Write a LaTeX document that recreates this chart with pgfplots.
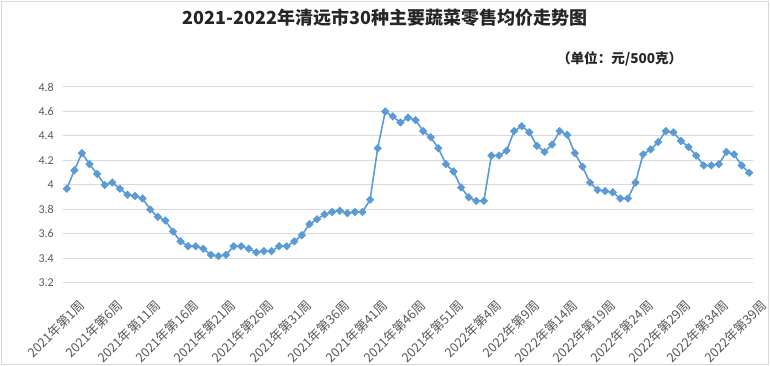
\documentclass[border=0pt]{standalone}
\usepackage{fontspec}
\setmainfont{Carlito}
\newfontfamily\cjk{Noto Sans CJK SC}
\usepackage{pgfplots}
\pgfplotsset{compat=1.18}
\definecolor{lineblue}{HTML}{5B9BD5}
\definecolor{gridgray}{HTML}{D9D9D9}
\definecolor{labgray}{HTML}{595959}
\begin{document}
\begin{tikzpicture}[x=0.75pt,y=0.75pt]
\path[use as bounding box] (0,0) rectangle (770,366);
\draw[gridgray, line width=0.75pt] (1.5,1.5) rectangle (768.5,364.5);
\node[font=\cjk\bfseries\fontsize{13.5}{14}\selectfont, text=black!85] at (385,348) {2021-2022年清远市30种主要蔬菜零售均价走势图};
\node[anchor=east, font=\cjk\bfseries\fontsize{10.2}{11}\selectfont, text=black!85] at (687,307) {（单位：元/500克）};
\begin{axis}[
  at={(47.25pt,62.25pt)}, anchor=south west,
  scale only axis, width=517.5pt, height=147pt,
  xmin=0.5, xmax=91.5, ymin=3.2, ymax=4.8,
  ytick={3.2,3.4,3.6,3.8,4,4.2,4.4,4.6,4.8},
  yticklabels={3.2,3.4,3.6,3.8,4,4.2,4.4,4.6,4.8},
  xtick={1,6,...,91},
  xticklabels={2021年第1周,2021年第6周,2021年第11周,2021年第16周,2021年第21周,2021年第26周,2021年第31周,2021年第36周,2021年第41周,2021年第46周,2021年第51周,2022年第4周,2022年第9周,2022年第14周,2022年第19周,2022年第24周,2022年第29周,2022年第34周,2022年第39周},
  axis line style={draw=none},
  major tick length=0pt,
  ymajorgrids, grid style={gridgray, line width=0.75pt},
  yticklabel style={font=\fontsize{9}{9}\selectfont, text=labgray, anchor=east, inner sep=0pt, xshift=-6.75pt},
  xticklabel style={font=\cjk\fontsize{9.6}{10}\selectfont, text=labgray, inner sep=0pt, xshift=11.5pt, yshift=-14.5pt, rotate=45, anchor=east},
  clip=false,
]
\addplot[color=lineblue, line width=1.2pt, mark=square*, mark size=2pt, mark options={rotate=45, fill=lineblue, draw=lineblue, line width=0.4pt}] coordinates {
(1,3.97)(2,4.12)(3,4.26)(4,4.17)(5,4.09)(6,4.00)(7,4.02)(8,3.97)(9,3.92)(10,3.91)
(11,3.89)(12,3.80)(13,3.74)(14,3.71)(15,3.62)(16,3.54)(17,3.50)(18,3.50)(19,3.48)(20,3.43)
(21,3.42)(22,3.43)(23,3.50)(24,3.50)(25,3.48)(26,3.45)(27,3.46)(28,3.46)(29,3.50)(30,3.50)
(31,3.54)(32,3.59)(33,3.68)(34,3.72)(35,3.76)(36,3.78)(37,3.79)(38,3.77)(39,3.78)(40,3.78)
(41,3.88)(42,4.30)(43,4.60)(44,4.56)(45,4.51)(46,4.55)(47,4.53)(48,4.44)(49,4.39)(50,4.30)
(51,4.17)(52,4.11)(53,3.98)(54,3.90)(55,3.87)(56,3.87)(57,4.24)(58,4.24)(59,4.28)(60,4.44)
(61,4.48)(62,4.43)(63,4.32)(64,4.27)(65,4.33)(66,4.44)(67,4.41)(68,4.26)(69,4.15)(70,4.02)
(71,3.96)(72,3.95)(73,3.94)(74,3.89)(75,3.89)(76,4.02)(77,4.25)(78,4.29)(79,4.35)(80,4.44)
(81,4.43)(82,4.36)(83,4.31)(84,4.24)(85,4.16)(86,4.16)(87,4.17)(88,4.27)(89,4.25)(90,4.16)
(91,4.10)
};
\end{axis}
\end{tikzpicture}
\end{document}
